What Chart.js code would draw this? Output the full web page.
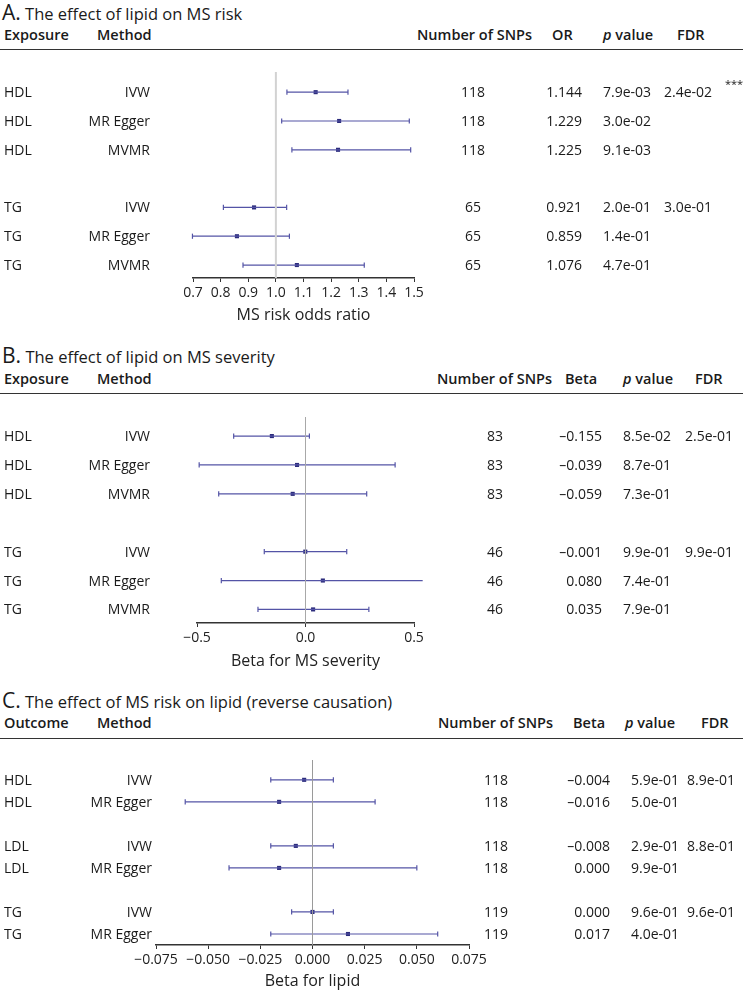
<!DOCTYPE html>
<html>
<head>
<meta charset="utf-8">
<script src="https://cdn.jsdelivr.net/npm/chart.js@4.4.1/dist/chart.umd.min.js"></script>
<style>
body{margin:0;width:745px;height:994px;position:relative;background:#fff;font-family:"Open Sans",sans-serif;color:#1a1a1a;overflow:hidden}
.t{position:absolute;white-space:nowrap;font-size:14px;line-height:18px}
.h{font-weight:600;font-size:14.5px}
.title{position:absolute;left:2px;white-space:nowrap;font-size:16.5px;line-height:24px}
.title span{font-size:21px}
.rule{position:absolute;left:0;width:743px;height:0;border-top:1.5px solid #333}
.star{font-size:11px}
canvas{position:absolute;left:0}
</style>
</head>
<body>
<canvas id="chartA" width="745" height="268" style="top:60px"></canvas>
<canvas id="chartB" width="745" height="269" style="top:405px"></canvas>
<canvas id="chartC" width="745" height="246" style="top:748px"></canvas>
<script>
// A. lipid -> MS risk
const exposureA = ['HDL','HDL','HDL','TG','TG','TG']
const methodA = ['IVW','MR Egger','MVMR','IVW','MR Egger','MVMR']
const rowsA = [0,1,2,4,5,6]
const snpsA = ['118','118','118','65','65','65']
const orA = ['1.144','1.229','1.225','0.921','0.859','1.076']
const pA = ['7.9e-03','3.0e-02','9.1e-03','2.0e-01','1.4e-01','4.7e-01']
const fdrA = ['2.4e-02','','','3.0e-01','','']
const estA = [1.144,1.229,1.225,0.921,0.859,1.076]
const loA = [1.040,1.021,1.058,0.810,0.698,0.881]
const hiA = [1.261,1.483,1.488,1.039,1.049,1.320]

// B. lipid -> MS severity
const exposureB = ['HDL','HDL','HDL','TG','TG','TG']
const methodB = ['IVW','MR Egger','MVMR','IVW','MR Egger','MVMR']
const rowsB = [0,1,2,4,5,6]
const snpsB = ['83','83','83','46','46','46']
const betaB = ['\u20130.155','\u20130.039','\u20130.059','\u20130.001','0.080','0.035']
const pB = ['8.5e-02','8.7e-01','7.3e-01','9.9e-01','7.4e-01','7.9e-01']
const fdrB = ['2.5e-01','','','9.9e-01','','']
const estB = [-0.155,-0.039,-0.059,-0.001,0.080,0.035]
const loB = [-0.331,-0.490,-0.400,-0.190,-0.388,-0.219]
const hiB = [0.018,0.413,0.282,0.190,0.540,0.292]

// C. MS risk -> lipid (reverse causation)
const outcomeC = ['HDL','HDL','LDL','LDL','TG','TG']
const methodC = ['IVW','MR Egger','IVW','MR Egger','IVW','MR Egger']
const rowsC = [0,1,3,4,6,7]
const snpsC = ['118','118','118','118','119','119']
const betaC = ['\u20130.004','\u20130.016','\u20130.008','0.000','0.000','0.017']
const pC = ['5.9e-01','5.0e-01','2.9e-01','9.9e-01','9.6e-01','4.0e-01']
const fdrC = ['8.9e-01','','8.8e-01','','9.6e-01','']
const estC = [-0.004,-0.016,-0.008,-0.016,0.000,0.017]
const loC = [-0.020,-0.061,-0.020,-0.040,-0.010,-0.020]
const hiC = [0.010,0.030,0.010,0.050,0.010,0.060]

const barColor = '#5454a6'
const dotColor = '#2c2c7c'

function text(str,x,y,align,cls){
	const el = document.createElement('div')
	el.className = 't ' + (cls||'')
	el.innerHTML = str
	el.style.left = x+'px'
	el.style.top = y+'px'
	const tx = align==='right' ? '-100%' : align==='center' ? '-50%' : '0'
	el.style.transform = 'translate('+tx+',-50%)'
	document.body.appendChild(el)
}

function heading(letter,str,y,headerY,ruleY,headers){
	const el = document.createElement('div')
	el.className = 'title'
	el.innerHTML = '<span>'+letter+'</span> '+str
	el.style.top = y+'px'
	document.body.appendChild(el)
	headers.forEach(h=>text(h[0],h[1],headerY,'left','h'))
	const rule = document.createElement('div')
	rule.className = 'rule'
	rule.style.top = ruleY+'px'
	document.body.appendChild(rule)
}

function panel(cfg){
	const canvas = document.getElementById(cfg.id)
	const datasets = [{
		data:[{x:cfg.ref,y:cfg.ymin},{x:cfg.ref,y:cfg.ymax}],
		showLine:true, borderColor:cfg.refColor, borderWidth:cfg.refWidth, pointRadius:0, clip:false
	}]
	cfg.rows.forEach((r,i)=>{
		datasets.push({
			data:[{x:cfg.lo[i],y:r},{x:cfg.hi[i],y:r}],
			showLine:true, borderColor:barColor, borderWidth:1.2,
			pointStyle:'line', rotation:90, pointRadius:2.6,
			pointBorderColor:barColor, pointBorderWidth:1.2, clip:false
		})
	})
	datasets.push({
		data:cfg.rows.map((r,i)=>({x:cfg.est[i],y:r})),
		pointStyle:'rect', pointRadius:2.9, pointBackgroundColor:dotColor,
		pointBorderWidth:0, clip:false
	})
	const dec = cfg.decimals
	const chart = new Chart(canvas,{
		type:'scatter',
		data:{datasets:datasets},
		options:{
			responsive:false, animation:false, events:[],
			layout:{padding:{top:12,left:cfg.left,right:745-cfg.right,bottom:0}},
			plugins:{legend:{display:false},tooltip:{enabled:false}},
			scales:{
				x:{
					type:'linear', min:cfg.min, max:cfg.max,
					afterFit:s=>{s.height = cfg.axisH},
					ticks:{stepSize:cfg.step, color:'#222', padding:3,
						font:{family:'Open Sans',size:14},
						callback:v=>(v< -1e-9?'\u2212':'')+Math.abs(v).toFixed(dec)},
					grid:{drawOnChartArea:false, drawTicks:true, tickLength:4, color:'#333', lineWidth:1},
					border:{display:true, color:'#333', width:1.5},
					title:{display:true, text:cfg.xTitle, color:'#222',
						font:{family:'Open Sans',size:16}, padding:{top:4,bottom:3}}
				},
				y:{type:'linear', display:false, reverse:true, min:cfg.ymin, max:cfg.ymax}
			}
		}
	})
	const top = canvas.offsetTop
	cfg.rows.forEach((r,i)=>{
		const y = top + chart.scales.y.getPixelForValue(r)
		cfg.cols.forEach(c=>{
			if(c[0][i]) text(c[0][i],c[1],y,c[2])
		})
	})
	return chart
}

heading('A.','The effect of lipid on MS risk',0,35,49,[
	['Exposure',4],['Method',97],['Number of SNPs',417],['OR',552],['<i>p</i> value',603],['FDR',677]])
panel({id:'chartA', rows:rowsA, est:estA, lo:loA, hi:hiA,
	min:0.7, max:1.5, step:0.1, decimals:1, left:193, right:414,
	ymin:-0.7, ymax:6.45, axisH:50, ref:1, refColor:'#d2d2d2', refWidth:2,
	xTitle:'MS risk odds ratio',
	cols:[[exposureA,4,'left'],[methodA,150,'right'],[snpsA,473,'center'],[orA,582,'right'],[pA,603,'left'],[fdrA,664,'left']]})
text('***',725,84,'left','star')

heading('B.','The effect of lipid on MS severity',343,379,393,[
	['Exposure',4],['Method',97],['Number of SNPs',437],['Beta',565],['<i>p</i> value',623],['FDR',695]])
panel({id:'chartB', rows:rowsB, est:estB, lo:loB, hi:hiB,
	min:-0.5, max:0.5, step:0.5, decimals:1, left:197, right:414,
	ymin:-0.66, ymax:6.47, axisH:51, ref:0, refColor:'#a8a8a8', refWidth:1,
	xTitle:'Beta for MS severity',
	cols:[[exposureB,4,'left'],[methodB,150,'right'],[snpsB,495,'center'],[betaB,602,'right'],[pB,623,'left'],[fdrB,685,'left']]})

heading('C.','The effect of MS risk on lipid (reverse causation)',688,723,738,[
	['Outcome',4],['Method',97],['Number of SNPs',438],['Beta',573],['<i>p</i> value',625],['FDR',701]])
panel({id:'chartC', rows:rowsC, est:estC, lo:loC, hi:hiC,
	min:-0.075, max:0.075, step:0.025, decimals:3, left:156, right:469,
	ymin:-0.9, ymax:7.5, axisH:49, ref:0, refColor:'#9a9a9a', refWidth:1,
	xTitle:'Beta for lipid',
	cols:[[outcomeC,4,'left'],[methodC,152,'right'],[snpsC,496,'center'],[betaC,610,'right'],[pC,631,'left'],[fdrC,687,'left']]})
</script>
</body>
</html>
